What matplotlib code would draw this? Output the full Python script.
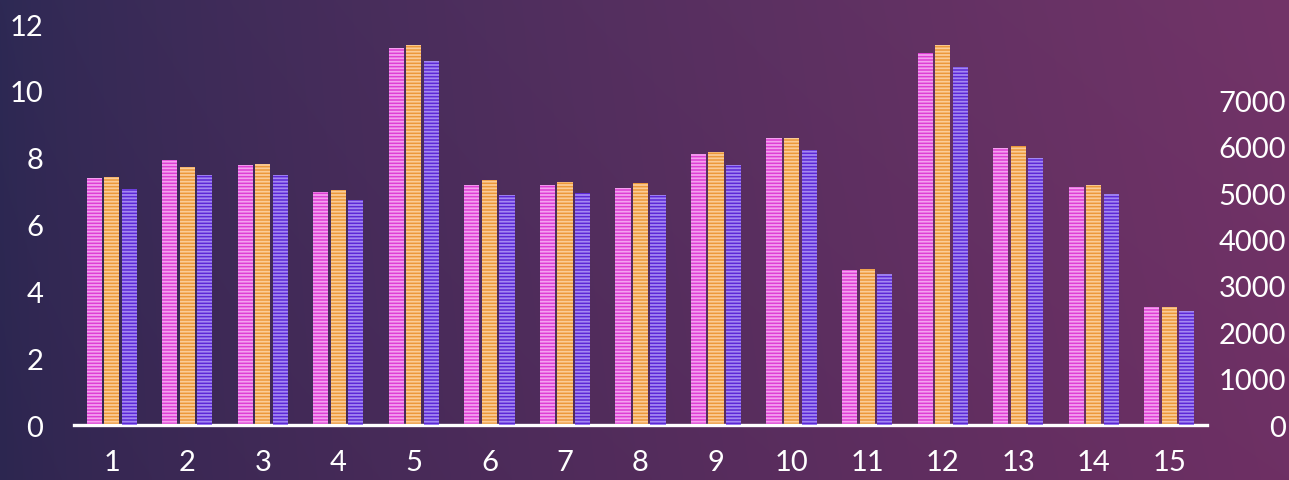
import numpy as np
import matplotlib.pyplot as plt
from matplotlib.colors import to_rgb

# bar heights
categories = [str(i) for i in range(1, 16)]
series_1 = [7.39, 7.93, 7.78, 6.97, 11.28, 7.18, 7.18, 7.09, 8.11, 8.59, 4.64, 11.13, 8.29, 7.12, 3.53]
series_2 = [7.42, 7.72, 7.81, 7.03, 11.37, 7.33, 7.27, 7.24, 8.17, 8.59, 4.67, 11.37, 8.35, 7.18, 3.53]
# third series is plotted against the right-hand axis
series_3 = [5090, 5393, 5393, 4853, 7851, 4961, 5004, 4961, 5608, 5932, 3257, 7722, 5759, 4983, 2459]

left_ticks = [0, 2, 4, 6, 8, 10, 12]
right_ticks = [0, 1000, 2000, 3000, 4000, 5000, 6000, 7000]

plt.rcParams['font.family'] = ['Lato', 'DejaVu Sans']
plt.rcParams['hatch.linewidth'] = 1.3


def gradient_background(fig) -> None:
    """Paints the diagonal purple gradient behind the chart"""
    bg = fig.add_axes([0, 0, 1, 1], zorder=-10)
    tl = np.array(to_rgb('#2d2954'))
    tr = np.array(to_rgb('#723468'))
    bl = np.array(to_rgb('#2c2650'))
    br = np.array(to_rgb('#6e3064'))
    xs = (np.linspace(0, 1, 300) ** 0.75)[None, :, None]
    ys = np.linspace(0, 1, 120)[:, None, None]
    top = tl + (tr - tl) * xs
    bottom = bl + (br - bl) * xs
    img = np.clip(top + (bottom - top) * ys, 0, 1)
    bg.imshow(img, aspect='auto', extent=[0, 1, 0, 1], interpolation='bicubic')
    bg.axis('off')


def main() -> None:
    fig = plt.figure(figsize=(12.89, 4.81), dpi=100)
    gradient_background(fig)

    ax = fig.add_axes([0.0574, 0.1143, 0.8790, 0.8337])
    ax2 = ax.twinx()
    ax.patch.set_alpha(0)
    ax2.patch.set_alpha(0)

    x = np.arange(1, len(categories) + 1)
    w = 0.2
    off = 0.232
    ax.bar(x - off, series_1, w, color='#de3fd4', edgecolor='#f4a0f0',
           hatch='-----', linewidth=0)
    ax.bar(x, series_2, w, color='#ec983a', edgecolor='#fbcc96',
           hatch='-----', linewidth=0)
    ax2.bar(x + off, series_3, w, color='#5c28d6', edgecolor='#a488f2',
            hatch='-----', linewidth=0)

    ax.set_xlim(0.5, 15.5)
    ax.set_ylim(0, 12)
    ax2.set_ylim(0, 8650)

    ax.set_xticks(x)
    ax.set_xticklabels(categories)
    ax.set_yticks(left_ticks)
    ax2.set_yticks(right_ticks)

    for a in (ax, ax2):
        for s in a.spines.values():
            s.set_visible(False)
    ax.spines['bottom'].set_visible(True)
    ax.spines['bottom'].set_color('white')
    ax.spines['bottom'].set_linewidth(2.4)
    ax.spines['bottom'].set_zorder(5)

    ax.tick_params(axis='x', length=0, pad=17, labelsize=21, labelcolor='white')
    ax.tick_params(axis='y', length=0, pad=22, labelsize=21, labelcolor='white')
    ax2.tick_params(axis='y', length=0, pad=57, labelsize=21, labelcolor='white')
    for lab in ax2.get_yticklabels():
        lab.set_horizontalalignment('right')

    fig.savefig('out.png', dpi=100)


if __name__ == '__main__':
    main()
